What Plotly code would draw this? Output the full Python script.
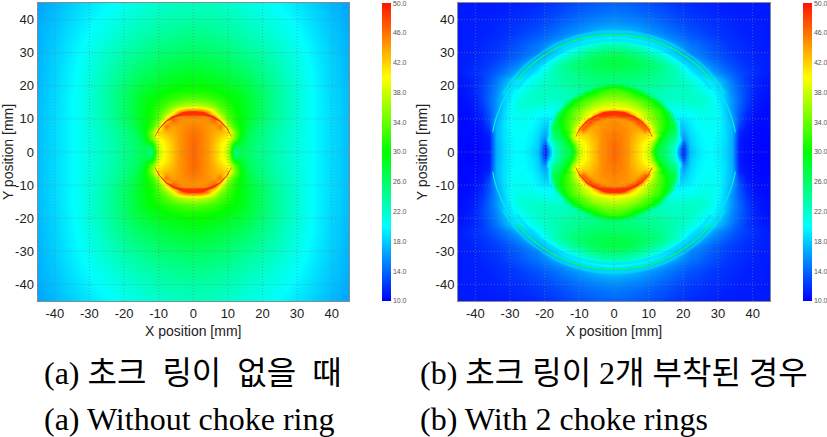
#!/usr/bin/python3
import plotly.graph_objects as go

# Quadrant readings of the field, x and y >= 0, the plots are mirror images about both axes
coords_a = [0, 2, 4, 6, 8, 10, 12, 14, 16, 18, 20, 24, 28, 32, 36, 40, 46]
quad_a = [
    [46.5, 45.5, 44.5, 42.5, 40.5, 37.5, 24.5, 26.5, 26, 25, 24.5, 23, 21.8, 20.7, 19.6, 18.6, 17.3],
    [46.5, 45.5, 44.5, 42.5, 40.5, 38.5, 28, 27.5, 26.2, 25.2, 24.5, 23, 21.8, 20.7, 19.6, 18.6, 17.3],
    [46.5, 45.5, 44.5, 43, 41.5, 40, 34, 28.5, 26.5, 25.4, 24.7, 23.1, 21.9, 20.7, 19.6, 18.6, 17.3],
    [46, 45.5, 44.5, 43.5, 43, 42, 35, 29.5, 27, 25.7, 25, 23.2, 22, 20.7, 19.6, 18.6, 17.3],
    [45.5, 45, 44.5, 44, 46, 37, 32, 29.5, 27.7, 26.3, 25.4, 23.5, 22.1, 20.8, 19.6, 18.6, 17.3],
    [44.5, 44.5, 45, 47, 40, 34, 31, 29.5, 28, 26.8, 25.8, 23.8, 22.2, 20.8, 19.6, 18.6, 17.3],
    [48, 48, 45, 39, 35, 32.5, 30.5, 29.5, 28.2, 27, 26, 24, 22.3, 20.8, 19.6, 18.6, 17.3],
    [38, 37.5, 36.5, 35, 33, 31.5, 30.3, 29.2, 28.2, 27, 26, 24, 22.3, 20.8, 19.6, 18.6, 17.3],
    [33.5, 33.2, 32.8, 32, 31.3, 30.5, 29.8, 29, 28, 27, 26, 24, 22.3, 20.8, 19.6, 18.5, 17.2],
    [31, 31, 30.8, 30.5, 30, 29.6, 29, 28.4, 27.6, 26.7, 25.8, 23.9, 22.3, 20.8, 19.5, 18.5, 17.2],
    [30, 30, 29.8, 29.5, 29.2, 28.8, 28.3, 27.8, 27.1, 26.3, 25.5, 23.8, 22.2, 20.7, 19.5, 18.4, 17.1],
    [28.5, 28.4, 28.2, 28, 27.7, 27.3, 26.9, 26.4, 25.9, 25.3, 24.7, 23.3, 21.9, 20.6, 19.4, 18.3, 17],
    [27, 26.9, 26.8, 26.6, 26.3, 26, 25.6, 25.2, 24.8, 24.3, 23.8, 22.7, 21.5, 20.3, 19.2, 18.2, 16.9],
    [25.7, 25.6, 25.5, 25.3, 25, 24.8, 24.4, 24.1, 23.7, 23.3, 22.9, 22, 21, 20, 19, 18, 16.8],
    [24.6, 24.5, 24.4, 24.2, 24, 23.8, 23.5, 23.2, 22.8, 22.5, 22.1, 21.3, 20.5, 19.6, 18.7, 17.8, 16.7],
    [23.6, 23.5, 23.4, 23.3, 23.1, 22.9, 22.6, 22.3, 22, 21.7, 21.4, 20.7, 20, 19.2, 18.4, 17.6, 16.6],
    [22.3, 22.3, 22.2, 22.1, 22, 21.8, 21.6, 21.3, 21, 20.7, 20.4, 19.8, 19.2, 18.6, 17.9, 17.2, 16.2],
]

coords_b = list(range(0, 23)) + [24, 26, 28, 30, 32, 34, 36, 38, 40, 42, 44, 46]
# y = 0..22, x = 0..22
near_b = [
    [46.5, 46, 45.5, 45, 44.5, 43.5, 42.5, 41.5, 40.5, 39, 38, 33, 28, 27, 26, 25, 23.5, 22, 19.5, 14.5, 11, 15, 17.5],
    [46.5, 46, 45.5, 45, 44.5, 43.5, 42.5, 41.5, 40.5, 39, 38, 34, 29, 27.5, 26.5, 25.5, 24, 22.5, 20, 15, 11.5, 15.5, 17.8],
    [46.5, 46, 45.5, 45, 44.5, 43.5, 42.5, 41.5, 40.5, 39.5, 38.5, 36, 30.5, 28, 27, 26, 24.5, 23, 21, 17, 12.5, 16, 18],
    [46, 46, 45.5, 45, 44.5, 43.5, 42.5, 42, 41, 40, 39, 37.5, 33, 29, 27.5, 26.5, 25, 24, 22, 19, 14, 16.5, 18.2],
    [46, 45.5, 45.5, 45, 44.5, 43.5, 43, 42, 41.5, 41, 40, 39, 35, 30.5, 28.5, 27, 26, 25, 23, 20, 15.5, 17, 18.4],
    [46, 45.5, 45.5, 45, 44.5, 44, 43, 42.5, 42, 42, 41, 42, 37, 33, 30, 28.5, 27, 26, 24.5, 18, 16.5, 17.5, 18.6],
    [45.5, 45.5, 45, 45, 44.5, 44, 43.5, 43, 43, 44, 42, 38, 35, 32, 30, 28.5, 27.5, 26.5, 25.5, 18, 17, 18, 18.8],
    [45.5, 45, 45, 45, 44.5, 44, 44, 43.5, 45, 47, 44, 39, 36, 33.5, 31.5, 30, 28.5, 27.5, 25.5, 18.3, 17.5, 18.3, 19],
    [45, 45, 45, 44.5, 44.5, 44, 44, 45, 47, 46, 40, 37.5, 35, 33, 31.5, 30, 29, 27.5, 25, 18, 18, 18.6, 19.2],
    [45, 45, 44.5, 44.5, 44.5, 44.5, 46, 48, 46, 41, 38.5, 36.5, 34.5, 33, 31.5, 30.5, 29, 27, 24, 18.5, 18.7, 19, 19.4],
    [44.5, 44.5, 44.5, 45, 46, 47.5, 48, 46, 41, 39, 37, 35.5, 34, 33, 31.5, 30.5, 28.5, 26, 19.2, 19, 19.2, 19.4, 19.6],
    [47, 47.5, 48, 48.5, 48, 46, 43, 40, 38.5, 37.5, 36, 35, 33.5, 32.5, 31, 30, 28, 25, 19.8, 19.7, 19.7, 19.8, 20],
    [48.5, 48.5, 48, 46.5, 44, 41.5, 40, 39, 38, 37, 35.5, 34.5, 33, 32, 30.5, 29, 27, 20.5, 20, 20, 20.1, 20.3, 20.5],
    [41.5, 41, 40.5, 40, 39.5, 39, 38.5, 37.5, 36.5, 35.5, 34.5, 33.5, 32.5, 31.5, 30, 27, 21.5, 20.5, 20.5, 20.5, 20.6, 20.8, 21],
    [39, 39, 38.5, 38.5, 38, 37.5, 37, 36, 35, 34, 33, 32, 31, 30, 27.5, 22, 21.3, 21.2, 21, 21, 21, 21.3, 21.5],
    [37.5, 37.5, 37, 37, 36.5, 36, 35.5, 34.5, 33.5, 33, 32, 31, 29.5, 27.5, 22.5, 22, 21.8, 21.7, 21.7, 21.7, 21.7, 21.8, 22],
    [36, 36, 35.5, 35.5, 35, 34.5, 33.5, 33, 32.5, 31.5, 30.5, 29.5, 27.5, 23, 22.5, 22.3, 22.2, 22.2, 22.2, 22.2, 22.2, 22.3, 22.3],
    [34.5, 34.5, 34.5, 34, 33.5, 33, 32, 31.5, 31, 30, 28, 24, 23, 22.8, 22.7, 22.5, 22.5, 22.5, 22.4, 22.4, 22.4, 22.4, 22.4],
    [33, 33, 33, 32.5, 32, 31, 30, 29.5, 28, 24, 23.5, 23.3, 23, 23, 22.8, 22.7, 22.6, 22.5, 22.4, 22.3, 22.2, 22.2, 22.2],
    [32, 32, 31.5, 31, 30, 29.5, 28, 24.5, 24, 24, 23.8, 23.5, 23.5, 23.3, 23.1, 23, 22.8, 22.6, 22.5, 22.3, 22.3, 22.2, 22.1],
    [29, 28.5, 28, 27, 26, 24.8, 24.6, 24.5, 24.5, 24.3, 24.2, 24, 23.8, 23.6, 23.4, 23.2, 23, 22.8, 22.7, 22.5, 22.3, 22.2, 22],
    [25.3, 25.3, 25.3, 25.2, 25.2, 25, 24.9, 24.8, 24.7, 24.5, 24.4, 24.2, 24, 23.8, 23.6, 23.4, 23.2, 23, 22.8, 22.5, 22.3, 22, 21.6],
    [25.6, 25.6, 25.6, 25.5, 25.5, 25.3, 25.2, 25.1, 24.9, 24.7, 24.6, 24.4, 24.2, 24, 23.8, 23.5, 23.3, 23, 22.7, 22.4, 22, 21.7, 21.3],
]
# y = 0..22, x = 24..46
side_b = [
    [19, 19.8, 20, 19.6, 18.5, 16.8, 11, 10.5, 10.3, 10.2, 10.2, 10.2],
    [19, 19.8, 20, 19.6, 18.5, 16.8, 11, 10.5, 10.3, 10.2, 10.2, 10.2],
    [19.2, 19.9, 20, 19.6, 18.5, 16.8, 11, 10.5, 10.3, 10.2, 10.2, 10.2],
    [19.3, 19.9, 20, 19.7, 18.6, 16.9, 11, 10.5, 10.3, 10.2, 10.2, 10.2],
    [19.4, 20, 20.1, 19.7, 18.6, 17, 11.1, 10.6, 10.4, 10.3, 10.2, 10.2],
    [19.5, 20, 20.1, 19.8, 18.7, 17, 11.3, 10.7, 10.4, 10.3, 10.2, 10.2],
    [19.7, 20.1, 20.2, 19.8, 18.7, 17, 11.5, 10.8, 10.4, 10.3, 10.3, 10.2],
    [19.8, 20.2, 20.3, 19.9, 18.7, 17, 12, 10.9, 10.5, 10.3, 10.3, 10.3],
    [20, 20.3, 20.4, 20, 18.7, 17, 12.5, 11, 10.5, 10.4, 10.3, 10.3],
    [20.1, 20.4, 20.5, 20, 18.7, 16.8, 13, 11.2, 10.6, 10.4, 10.3, 10.3],
    [20.2, 20.5, 20.5, 20, 18.6, 16.5, 13.2, 11.4, 10.7, 10.4, 10.4, 10.3],
    [20.4, 20.7, 20.6, 20, 18.4, 16.2, 13.3, 11.6, 10.8, 10.5, 10.4, 10.3],
    [20.7, 20.9, 20.8, 20, 18.3, 16, 13.5, 11.8, 10.9, 10.5, 10.4, 10.4],
    [21, 21.1, 20.9, 20, 18.1, 15.7, 13.7, 12, 11, 10.6, 10.5, 10.4],
    [21.5, 21.5, 21, 19.9, 18, 15.7, 13.8, 12.2, 11.1, 10.7, 10.5, 10.4],
    [21.8, 21.7, 21, 19.6, 17.9, 15.8, 14, 12.4, 11.2, 10.8, 10.6, 10.5],
    [22, 21.8, 21, 19.4, 17.8, 15.8, 14, 12.5, 11.3, 10.8, 10.6, 10.5],
    [22, 21.5, 20.6, 19.2, 17.6, 15.6, 14, 12.6, 11.4, 10.9, 10.7, 10.5],
    [21.8, 21.2, 20.2, 19, 17.4, 15.4, 13.9, 12.6, 11.5, 11, 10.7, 10.6],
    [21.4, 20.8, 19.8, 18.6, 17, 15.2, 13.8, 12.6, 11.5, 11, 10.8, 10.6],
    [21, 20.3, 19.4, 18.2, 16.7, 15, 13.7, 12.5, 11.5, 11.1, 10.8, 10.7],
    [20.5, 19.8, 19, 17.8, 16.4, 14.8, 13.5, 12.4, 11.6, 11.1, 10.9, 10.7],
    [20.2, 19.4, 18.5, 17.4, 16, 14.5, 13.3, 12.3, 11.6, 11.2, 10.9, 10.8],
]
# y = 24..46, x = 0..46
far_b = [
    [26, 26, 26, 26, 25.9, 25.8, 25.7, 25.6, 25.4, 25.2, 25, 24.8, 24.6, 24.3, 24, 23.7, 23.3, 23, 22.6, 22, 21.3, 20.5, 19.8,
     18.8, 17.8, 16.8, 15.6, 14.6, 13.8, 13, 12.4, 11.9, 11.5, 11.2, 11],
    [27.3, 27.3, 27.2, 27.1, 27, 26.9, 26.7, 26.5, 26.3, 26, 25.8, 25.5, 25.2, 24.8, 24.4, 24, 23.5, 22.9, 22.2, 21.2, 20.2, 19.3, 18.5,
     17.5, 16.5, 15.4, 14.6, 13.8, 13.1, 12.5, 12, 11.7, 11.4, 11.2, 11],
    [27.3, 27.3, 27.2, 27.1, 26.9, 26.7, 26.5, 26.2, 25.9, 25.5, 25.1, 24.7, 24.2, 23.6, 23, 22.2, 21.4, 20.5, 19.6, 18.7, 18, 17.2, 16.5,
     16, 15, 14.3, 13.6, 13, 12.5, 12.1, 11.8, 11.5, 11.3, 11.2, 11],
    [26, 26, 25.9, 25.8, 25.5, 25.2, 24.9, 24.5, 24, 23.4, 22.8, 22.2, 21.6, 21, 20.3, 19.6, 19, 18.3, 17.6, 17, 16.4, 15.8, 15.2,
     14.8, 14.2, 13.6, 13.1, 12.6, 12.2, 11.9, 11.6, 11.4, 11.2, 11.1, 11],
    [23.5, 23.5, 23.4, 23.2, 23, 22.7, 22.3, 21.9, 21.4, 20.9, 20.4, 19.9, 19.4, 18.9, 18.4, 17.9, 17.4, 17, 16.5, 16, 15.6, 15.2, 14.8,
     14.4, 13.8, 13.3, 12.8, 12.4, 12, 11.8, 11.5, 11.3, 11.2, 11.1, 11],
    [20, 20, 20, 19.8, 19.6, 19.4, 19.2, 19, 18.7, 18.4, 18, 17.6, 17.2, 16.8, 16.4, 16, 15.7, 15.4, 15.1, 14.8, 14.5, 14.2, 13.9,
     13.6, 13.2, 12.8, 12.4, 12, 11.8, 11.6, 11.4, 11.2, 11.1, 11, 11],
    [17.8, 17.8, 17.7, 17.6, 17.5, 17.3, 17.1, 16.9, 16.7, 16.4, 16.1, 15.9, 15.7, 15.4, 15.2, 14.9, 14.7, 14.4, 14.2, 14, 13.8, 13.5, 13.3,
     13, 12.6, 12.3, 12, 11.8, 11.6, 11.4, 11.3, 11.2, 11.1, 11, 11],
    [16.5, 16.5, 16.4, 16.3, 16.2, 16.1, 16, 15.8, 15.6, 15.4, 15.2, 15, 14.8, 14.6, 14.4, 14.2, 14, 13.8, 13.6, 13.4, 13.2, 13, 12.8,
     12.6, 12.3, 12.1, 11.9, 11.7, 11.5, 11.3, 11.2, 11.1, 11.1, 11, 11],
    [15.5, 15.5, 15.4, 15.3, 15.2, 15.1, 15, 14.9, 14.8, 14.6, 14.4, 14.3, 14.1, 13.9, 13.7, 13.6, 13.4, 13.2, 13, 12.9, 12.7, 12.5, 12.4,
     12.2, 12, 11.8, 11.7, 11.5, 11.4, 11.3, 11.2, 11.1, 11, 11, 11],
    [14.7, 14.7, 14.6, 14.6, 14.5, 14.4, 14.3, 14.2, 14.1, 13.9, 13.8, 13.7, 13.5, 13.4, 13.2, 13.1, 12.9, 12.8, 12.6, 12.5, 12.3, 12.2, 12,
     11.9, 11.7, 11.6, 11.4, 11.3, 11.2, 11.1, 11.1, 11, 11, 11, 11],
    [14.1, 14.1, 14, 14, 13.9, 13.8, 13.7, 13.6, 13.5, 13.4, 13.3, 13.2, 13, 12.9, 12.8, 12.6, 12.5, 12.4, 12.2, 12.1, 12, 11.9, 11.8,
     11.6, 11.5, 11.4, 11.2, 11.1, 11.1, 11, 11, 11, 11, 11, 10.9],
    [13.6, 13.6, 13.6, 13.5, 13.4, 13.4, 13.3, 13.2, 13.1, 13, 12.9, 12.8, 12.7, 12.6, 12.4, 12.3, 12.2, 12.1, 12, 11.9, 11.8, 11.7, 11.6,
     11.5, 11.4, 11.2, 11.1, 11, 11, 11, 10.9, 10.9, 10.9, 10.9, 10.8],
]
quad_b = [n + s for n, s in zip(near_b, side_b)] + far_b

# Thin features, read in mm for the first quadrant
crescent_x = [0, 3, 6, 8, 10, 11.2, 10.9, 9.6, 7.6, 5, 2.5, 0]
crescent_y = [12.4, 12.1, 10.8, 9.4, 7, 4.5, 4.8, 7.1, 9.2, 10.5, 11, 11]
ring_top_x = [0, 5, 10, 15, 20, 25, 28]
ring_top_y = [35.5, 35.1, 34.1, 32.2, 29.3, 25.2, 21.6]
ring_side_x = [28, 30, 32, 33.5, 34.5, 35]
ring_side_y = [21.6, 19, 15.4, 11.7, 8.4, 5.9]
band_x = [0, 5, 10, 15, 20, 24, 28]
band_y = [33.8, 33.4, 32.3, 30.3, 27.2, 23.8, 18.9]
glow_x = [0, 5, 10, 15, 20, 25, 29, 32]
glow_y = [36.5, 36.2, 35.1, 33.3, 30.5, 26.6, 22.2, 17.6]

ticks = [-40, -30, -20, -10, 0, 10, 20, 30, 40]
tick_text = ['-40', '-30', '-20', '-10', '0', '10', '20', '30', '40']
cbar_ticks = [10, 14, 18, 22, 26, 30, 34, 38, 42, 46, 49.9]
cbar_text = ['10.0', '14.0', '18.0', '22.0', '26.0', '30.0', '34.0', '38.0', '42.0', '46.0', '50.0']
caption_ko = ['(a) 초크\u00a0 링이\u00a0 없을\u00a0 때', '(b) 초크 링이 2개 부착된 경우']
caption_en = ['(a) Without choke ring', '(b) With 2 choke rings']

W, H = 827, 437
jet = [[0, 'rgb(0,0,255)'], [0.25, 'rgb(0,255,255)'], [0.5, 'rgb(0,255,0)'],
       [0.75, 'rgb(255,255,0)'], [1, 'rgb(255,20,0)']]


def mirror(coords, quad):
    full = [-c for c in coords[:0:-1]] + coords
    rows = [r[:0:-1] + r for r in quad]
    return full, rows[:0:-1] + rows


def arc_traces(xs, ys, xa, ya, **kw):
    # one trace per quadrant
    for sx, sy in [(1, 1), (-1, 1), (1, -1), (-1, -1)]:
        fig.add_trace(go.Scatter(x=[sx * v for v in xs], y=[sy * v for v in ys],
                                 xaxis=xa, yaxis=ya, hoverinfo='skip', **kw))


fig = go.Figure()
panels = [('x', 'y', coords_a, quad_a, 382), ('x2', 'y2', coords_b, quad_b, 803)]
for xa, ya, coords, quad, cb_left in panels:
    full, z = mirror(coords, quad)
    fig.add_trace(go.Heatmap(
        x=full, y=full, z=z, xaxis=xa, yaxis=ya, zmin=10, zmax=50,
        colorscale=jet, zsmooth='best',
        colorbar=dict(x=cb_left / W, xanchor='left', y=1 - 3 / H, yanchor='top',
                      len=298 / H, thickness=9, xpad=0, ypad=0, outlinewidth=0,
                      ticks='', tickmode='array', tickvals=cbar_ticks, ticktext=cbar_text,
                      tickfont=dict(size=7, color='#555', family='Liberation Sans')),
    ))
    arc_traces(crescent_x, crescent_y, xa, ya, mode='lines', fill='toself',
               fillcolor='rgb(255,45,0)', line=dict(width=0, color='rgb(255,45,0)'))

arc_traces(band_x, band_y, 'x2', 'y2', mode='lines',
           line=dict(color='rgba(0,205,255,0.45)', width=3, shape='spline'))
arc_traces(glow_x, glow_y, 'x2', 'y2', mode='lines',
           line=dict(color='rgba(0,245,235,0.4)', width=3, shape='spline'))
arc_traces(ring_top_x, ring_top_y, 'x2', 'y2', mode='lines',
           line=dict(color='rgb(0,250,120)', width=1.5, shape='spline'))
arc_traces(ring_side_x, ring_side_y, 'x2', 'y2', mode='lines',
           line=dict(color='rgb(0,235,240)', width=1.2, shape='spline'))

label_font = dict(size=14, color='#222', family='Liberation Sans')
axis = dict(range=[-45, 45], tickmode='array', tickvals=ticks, ticktext=tick_text,
            showgrid=False, zeroline=False, ticks='', showline=True, mirror=True,
            linecolor='#8a8a8a', linewidth=1,
            tickfont=dict(size=13, color='#222', family='Liberation Sans'))
xtitle = dict(text='X position [mm]', font=label_font, standoff=6)
ytitle = dict(text='Y position [mm]', font=label_font, standoff=4)
fig.update_layout(
    width=W, height=H, showlegend=False, paper_bgcolor='white', plot_bgcolor='white',
    margin=dict(l=0, r=0, t=0, b=0, autoexpand=False),
    xaxis=dict(axis, domain=[37.5 / W, 349 / W], title=xtitle, anchor='y'),
    yaxis=dict(axis, domain=[1 - 301 / H, 1 - 3 / H], title=ytitle, anchor='x'),
    xaxis2=dict(axis, domain=[458 / W, 770 / W], title=xtitle, anchor='y2'),
    yaxis2=dict(axis, domain=[1 - 301 / H, 1 - 3 / H], title=ytitle, anchor='x2'),
)

# dotted grid sits over the image
for xa, ya in [('x', 'y'), ('x2', 'y2')]:
    for t in ticks:
        grid = dict(type='line', line=dict(color='rgba(125,125,125,0.6)', width=1, dash='1px,2px'),
                    xref=xa, yref=ya)
        fig.add_shape(x0=t, x1=t, y0=-45, y1=45, **grid)
        fig.add_shape(x0=-45, x1=45, y0=t, y1=t, **grid)

cap_font = dict(family='Liberation Serif, Noto Sans CJK KR', size=32, color='black')
for i, left in enumerate([42, 418]):
    for text, top in [(caption_ko[i], 373), (caption_en[i], 419)]:
        fig.add_annotation(text=text, xref='paper', yref='paper', x=left / W, y=1 - top / H,
                           xanchor='left', yanchor='middle', showarrow=False, font=cap_font)

fig.write_html("out.html", config={'displayModeBar': False},
               post_script="document.body.style.margin='0';")
